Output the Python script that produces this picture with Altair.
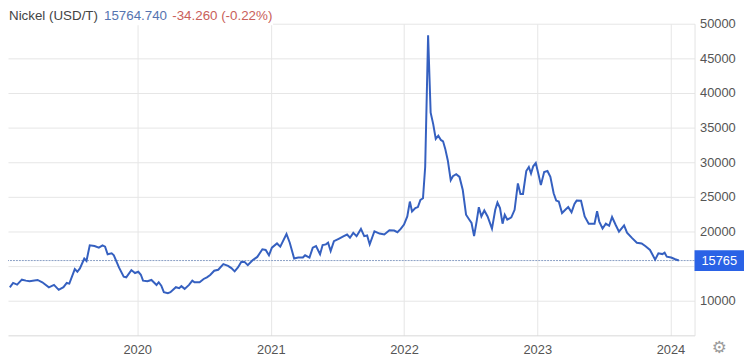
import altair as alt
import pandas as pd

dates = [
    "2019-01-17", "2019-01-26", "2019-02-06", "2019-02-19", "2019-03-02", "2019-03-12",
    "2019-04-03", "2019-04-16", "2019-05-04", "2019-05-18", "2019-05-31", "2019-06-13",
    "2019-06-22", "2019-06-29", "2019-07-14", "2019-07-21", "2019-07-28", "2019-08-09",
    "2019-08-15", "2019-08-24", "2019-09-06", "2019-09-18", "2019-09-28", "2019-10-05",
    "2019-10-12", "2019-10-23", "2019-10-29", "2019-11-12", "2019-11-25", "2019-12-02",
    "2019-12-16", "2019-12-26",
    "2020-01-04", "2020-01-11", "2020-01-17", "2020-01-29", "2020-02-09", "2020-02-23",
    "2020-02-29", "2020-03-07", "2020-03-14", "2020-03-25", "2020-04-01", "2020-04-16",
    "2020-04-25", "2020-05-01", "2020-05-10", "2020-05-22", "2020-05-31", "2020-06-06",
    "2020-06-20", "2020-07-01", "2020-07-10", "2020-07-19", "2020-07-30", "2020-08-10",
    "2020-08-24", "2020-09-06", "2020-09-15", "2020-09-24", "2020-10-03", "2020-10-12",
    "2020-10-21", "2020-10-30", "2020-11-12", "2020-11-25", "2020-12-09", "2020-12-18",
    "2020-12-27",
    "2021-01-04", "2021-01-18", "2021-01-27", "2021-02-13", "2021-02-22", "2021-03-06",
    "2021-03-17", "2021-03-30", "2021-04-05", "2021-04-17", "2021-04-26", "2021-05-05",
    "2021-05-16", "2021-05-23", "2021-06-01", "2021-06-07", "2021-06-14", "2021-06-23",
    "2021-07-06", "2021-07-20", "2021-07-29", "2021-08-06", "2021-08-15", "2021-08-24",
    "2021-09-05", "2021-09-14", "2021-09-22", "2021-09-29", "2021-10-12", "2021-10-26",
    "2021-11-08", "2021-11-22", "2021-12-05", "2021-12-14", "2021-12-23",
    "2022-01-01", "2022-01-10", "2022-01-17", "2022-01-23", "2022-02-01", "2022-02-08",
    "2022-02-15", "2022-02-22", "2022-02-28", "2022-03-08", "2022-03-15", "2022-03-22",
    "2022-03-29", "2022-04-05", "2022-04-12", "2022-04-18", "2022-04-24", "2022-05-01",
    "2022-05-09", "2022-05-15", "2022-05-24", "2022-06-02", "2022-06-11", "2022-06-20",
    "2022-06-29", "2022-07-05", "2022-07-12", "2022-07-19", "2022-07-25", "2022-08-01",
    "2022-08-09", "2022-08-18", "2022-08-30", "2022-09-08", "2022-09-14", "2022-09-21",
    "2022-09-28", "2022-10-04", "2022-10-11", "2022-10-22", "2022-10-31", "2022-11-09",
    "2022-11-16", "2022-11-23", "2022-12-02", "2022-12-09", "2022-12-15", "2022-12-21",
    "2022-12-28",
    "2023-01-05", "2023-01-11", "2023-01-20", "2023-01-29", "2023-02-06", "2023-02-15",
    "2023-02-22", "2023-03-01", "2023-03-10", "2023-03-19", "2023-03-27", "2023-04-05",
    "2023-04-13", "2023-04-19", "2023-05-01", "2023-05-11", "2023-05-22", "2023-06-07",
    "2023-06-14", "2023-06-20", "2023-06-29", "2023-07-08", "2023-07-17", "2023-07-25",
    "2023-08-04", "2023-08-13", "2023-08-27", "2023-09-04", "2023-09-18", "2023-10-01",
    "2023-10-14", "2023-10-24", "2023-11-06", "2023-11-20", "2023-11-29", "2023-12-10",
    "2023-12-16", "2023-12-22",
    "2024-01-03", "2024-01-14", "2024-01-24",
]

prices = [
    11900, 12530, 12290, 13000, 12860, 12770,
    12960, 12630, 11900, 12240, 11530, 11910,
    12530, 12430, 14530, 14140, 14630, 16060,
    15710, 17960, 17860, 17630, 17960, 17780,
    16670, 16810, 16530, 14770, 13430, 13340,
    14390, 13960,
    14140, 13710, 12860, 12770, 12960, 12240,
    12630, 12140, 11200, 11060, 11200, 11910,
    11770, 12060, 11670, 12240, 12860, 12630,
    12630, 13100, 13340, 13670, 14290, 14430,
    15240, 15000, 14670, 14200, 14770, 15570,
    15570, 15100, 15810, 16290, 17390, 17300,
    16530,
    17630, 18240, 17770, 19600, 18340, 16060,
    16200, 16200, 16530, 16200, 17630, 17860,
    16670, 18000, 18100, 18340, 17140, 18570,
    18910, 19290, 19530, 19060, 19770, 19290,
    20340, 19290, 19390, 18100, 20000, 19670,
    19530, 20140, 20100, 19860, 20340,
    20960, 22140, 24290, 22860, 23340, 23500,
    24530, 24770, 29290, 48340, 37140, 35490,
    33340, 33810, 33200, 33000, 31910, 30240,
    27390, 27960, 28240, 27860, 25960, 22390,
    21670, 21200, 19290, 21430, 23480, 22140,
    23000, 22140, 20390, 23100, 24140, 23340,
    21100, 22390, 21670, 22000, 23100, 26910,
    25390, 25390, 28710, 29290, 28340, 29390,
    29860,
    28100, 26670, 28570, 28710, 27860, 25490,
    24430, 24290, 22630, 23100, 23490, 22740,
    23960, 24430, 24400, 22140, 21100, 21100,
    22900, 21400, 20400, 21100, 20800, 22060,
    20900, 19930, 20840, 19800, 19000, 18340,
    18240, 17860, 17300, 15900, 16810, 16700,
    16900, 16320,
    16200, 15950, 15765,
]

last_price = 15764.74
last_label = "15765"
title_name = "Nickel (USD/T)"
title_value = "15764.740"
title_change = "-34.260 (-0.22%)"
y_ticks = [10000, 15000, 20000, 25000, 30000, 35000, 40000, 45000, 50000]
hidden_tick = 15000  # label covered by the last-value box

df = pd.DataFrame({"date": dates, "price": prices})
last_df = pd.DataFrame({"price": [last_price], "label": [last_label]})

W, H = 694, 315
FONT = "Liberation Sans"
GRID = "#e6e6e6"

x_scale = alt.Scale(
    type="utc",
    domain=[
        alt.DateTime(year=2019, month=1, date=12, utc=True),
        alt.DateTime(year=2024, month=3, date=7, utc=True),
    ],
)
y_scale = alt.Scale(domain=[4952, 50000], nice=False, zero=False)

x_axis = alt.Axis(
    title=None, format="%Y", tickCount={"interval": "year", "step": 1},
    grid=True, gridColor=GRID, gridWidth=1, ticks=False, tickSize=0,
    labelPadding=8, labelFontSize=13, labelColor="#555555", labelFont=FONT,
    domainColor="#d8d8d8", labelFlush=False,
)
y_axis = alt.Axis(
    orient="right", title=None, values=y_ticks, format="d",
    labelExpr=f"datum.value == {hidden_tick} ? '' : datum.label",
    grid=True, gridColor=GRID, gridWidth=1, ticks=False, tickSize=0,
    labelPadding=5, labelFontSize=13, labelColor="#555555", labelFont=FONT,
    labelAlign="left", domainColor="#e3e3e3",
)

y_enc = alt.Y("price:Q", scale=y_scale, axis=y_axis)

line = alt.Chart(df).mark_line(color="#3560c0", strokeWidth=2).encode(
    x=alt.X("date:T", scale=x_scale, axis=x_axis),
    y=y_enc,
)

last_rule = alt.Chart(last_df).mark_rule(
    color="#8a9fc4", strokeWidth=1, strokeDash=[2, 1]
).encode(y=y_enc)

last_box = alt.Chart(last_df).mark_tick(
    orient="horizontal", thickness=21, size=50, color="#2a62e6", opacity=1
).encode(y=y_enc, x=alt.value(719))

last_text = alt.Chart(last_df).mark_text(
    color="white", fontSize=13, font=FONT, align="center", baseline="middle"
).encode(y=y_enc, x=alt.value(719), text="label:N")

title_bg = alt.Chart(last_df).mark_rect(color="white").encode(
    x=alt.value(0), x2=alt.value(268), y=alt.value(-14), y2=alt.value(1.5)
)

def title_piece(txt, xpos, color):
    return alt.Chart(last_df).mark_text(
        text=txt, color=color, fontSize=13.5, font=FONT,
        align="left", baseline="alphabetic",
    ).encode(x=alt.value(xpos), y=alt.value(-3.7))

t1 = title_piece(title_name, 1, "#444444")
t2 = title_piece(title_value, 97, "#5674b0")
t3 = title_piece(title_change, 166, "#c9605a")

gear = alt.Chart(last_df).mark_text(
    text="⚙", color="#9a9a9a", fontSize=17, font="DejaVu Sans",
    align="center", baseline="middle",
).encode(x=alt.value(719), y=alt.value(328))

chart = alt.layer(
    last_rule, line, last_box, last_text, title_bg, t1, t2, t3, gear
).properties(
    width=W, height=H,
    autosize=alt.AutoSizeParams(type="none"),
    padding={"left": 0, "top": 14, "right": 50, "bottom": 22},
).configure_view(strokeWidth=0, stroke=None)

chart.save("out.html", embed_options={"renderer": "svg", "actions": False})
